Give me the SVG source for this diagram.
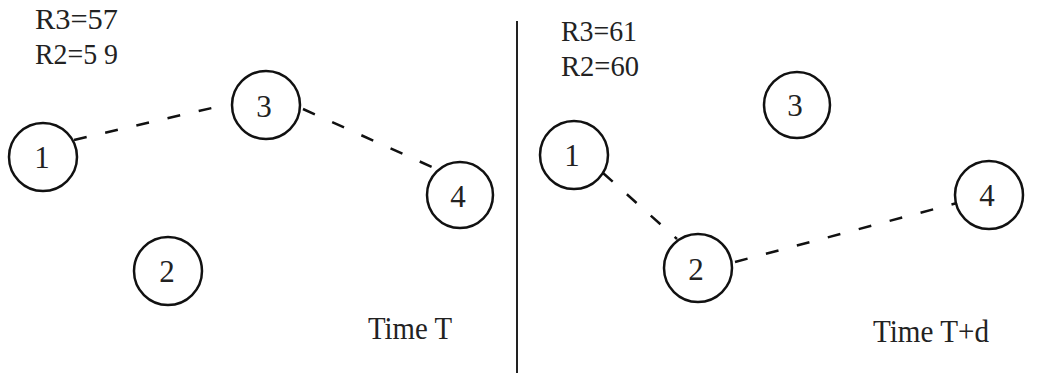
<svg xmlns="http://www.w3.org/2000/svg" width="1037" height="373" viewBox="0 0 1037 373">
<style>
.n{fill:none;stroke:#111;stroke-width:2.5}
.t{font-family:"Liberation Serif","Times New Roman",serif;fill:#222}
.lbl{font-size:31px;text-anchor:middle}
.r{font-size:29px}
.tm{font-size:31px}
.e{fill:none;stroke:#111;stroke-width:2.5;stroke-dasharray:13 19}
</style>
<rect width="1037" height="373" fill="#fff"/>
<g id="connectors">
<line class="e" x1="74" y1="140" x2="229" y2="104"/>
<line class="e" x1="303" y1="109" x2="432" y2="167"/>
<line class="e" x1="603" y1="173" x2="677" y2="239"/>
<line class="e" x1="735" y1="262" x2="957" y2="203"/>
</g>
<line id="divider" x1="517" y1="21" x2="517" y2="373" stroke="#222" stroke-width="2"/>
<g id="L1"><circle class="n" cx="43" cy="157" r="34"/><text class="t lbl" x="42" y="168">1</text></g>
<g id="L2"><circle class="n" cx="168" cy="271" r="34"/><text class="t lbl" x="167" y="282">2</text></g>
<g id="L3"><circle class="n" cx="266" cy="105" r="34"/><text class="t lbl" x="264" y="117">3</text></g>
<g id="L4"><circle class="n" cx="460" cy="195" r="33"/><text class="t lbl" x="458" y="207">4</text></g>
<g id="R1"><circle class="n" cx="574" cy="155" r="34"/><text class="t lbl" x="572" y="166">1</text></g>
<g id="R2"><circle class="n" cx="698" cy="268" r="34"/><text class="t lbl" x="696" y="280">2</text></g>
<g id="R3"><circle class="n" cx="797" cy="105" r="33"/><text class="t lbl" x="795" y="116">3</text></g>
<g id="R4"><circle class="n" cx="989" cy="195" r="34"/><text class="t lbl" x="987" y="206">4</text></g>
<g id="texts">
<text class="t r" x="35" y="29" textLength="83" lengthAdjust="spacingAndGlyphs">R3=57</text>
<text class="t r" x="35" y="64" textLength="83" lengthAdjust="spacingAndGlyphs">R2=5 9</text>
<text class="t r" x="561" y="41" textLength="76" lengthAdjust="spacingAndGlyphs">R3=61</text>
<text class="t r" x="561" y="76" textLength="78" lengthAdjust="spacingAndGlyphs">R2=60</text>
<text class="t tm" x="368" y="339" textLength="84" lengthAdjust="spacingAndGlyphs">Time T</text>
<text class="t tm" x="873" y="342" textLength="116" lengthAdjust="spacingAndGlyphs">Time T+d</text>
</g>
</svg>
